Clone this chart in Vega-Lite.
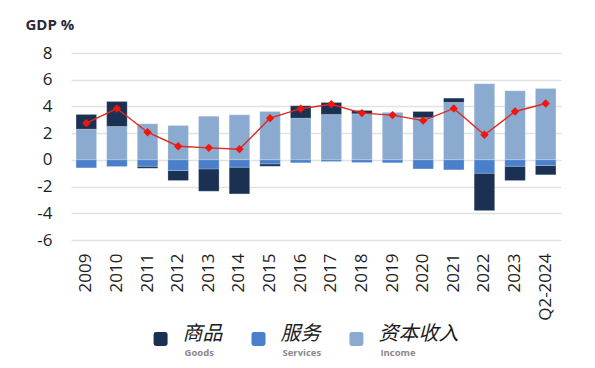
{
  "$schema": "https://vega.github.io/schema/vega-lite/v6.json",
  "background": "white",
  "padding": {"left": 25, "top": 17, "right": 5, "bottom": 5},
  "spacing": 3,
  "config": {"view": {"stroke": null}, "font": "Open Sans"},
  "datasets": {
    "bars": [
      {"year": "2009", "type": "Income", "value": 2.3}, {"year": "2009", "type": "Goods", "value": 1.1}, {"year": "2009", "type": "Services", "value": -0.6},
      {"year": "2010", "type": "Income", "value": 2.5}, {"year": "2010", "type": "Goods", "value": 1.87}, {"year": "2010", "type": "Services", "value": -0.5},
      {"year": "2011", "type": "Income", "value": 2.7}, {"year": "2011", "type": "Goods", "value": -0.15}, {"year": "2011", "type": "Services", "value": -0.48},
      {"year": "2012", "type": "Income", "value": 2.57}, {"year": "2012", "type": "Goods", "value": -0.75}, {"year": "2012", "type": "Services", "value": -0.8},
      {"year": "2013", "type": "Income", "value": 3.27}, {"year": "2013", "type": "Goods", "value": -1.67}, {"year": "2013", "type": "Services", "value": -0.68},
      {"year": "2014", "type": "Income", "value": 3.37}, {"year": "2014", "type": "Goods", "value": -2.0}, {"year": "2014", "type": "Services", "value": -0.55},
      {"year": "2015", "type": "Income", "value": 3.62}, {"year": "2015", "type": "Goods", "value": -0.18}, {"year": "2015", "type": "Services", "value": -0.3},
      {"year": "2016", "type": "Income", "value": 3.12}, {"year": "2016", "type": "Goods", "value": 0.93}, {"year": "2016", "type": "Services", "value": -0.22},
      {"year": "2017", "type": "Income", "value": 3.4}, {"year": "2017", "type": "Goods", "value": 0.9}, {"year": "2017", "type": "Services", "value": -0.13},
      {"year": "2018", "type": "Income", "value": 3.45}, {"year": "2018", "type": "Goods", "value": 0.25}, {"year": "2018", "type": "Services", "value": -0.2},
      {"year": "2019", "type": "Income", "value": 3.57}, {"year": "2019", "type": "Goods", "value": 0.0}, {"year": "2019", "type": "Services", "value": -0.22},
      {"year": "2020", "type": "Income", "value": 3.15}, {"year": "2020", "type": "Goods", "value": 0.47}, {"year": "2020", "type": "Services", "value": -0.68},
      {"year": "2021", "type": "Income", "value": 4.3}, {"year": "2021", "type": "Goods", "value": 0.32}, {"year": "2021", "type": "Services", "value": -0.75},
      {"year": "2022", "type": "Income", "value": 5.7}, {"year": "2022", "type": "Goods", "value": -2.8}, {"year": "2022", "type": "Services", "value": -1.0},
      {"year": "2023", "type": "Income", "value": 5.17}, {"year": "2023", "type": "Goods", "value": -1.07}, {"year": "2023", "type": "Services", "value": -0.48},
      {"year": "Q2-2024", "type": "Income", "value": 5.35}, {"year": "Q2-2024", "type": "Goods", "value": -0.7}, {"year": "Q2-2024", "type": "Services", "value": -0.42}
    ],
    "total": [
      {"year": "2009", "total": 2.75}, {"year": "2010", "total": 3.84}, {"year": "2011", "total": 2.07},
      {"year": "2012", "total": 1.02}, {"year": "2013", "total": 0.9}, {"year": "2014", "total": 0.8},
      {"year": "2015", "total": 3.12}, {"year": "2016", "total": 3.83}, {"year": "2017", "total": 4.16},
      {"year": "2018", "total": 3.5}, {"year": "2019", "total": 3.35}, {"year": "2020", "total": 2.94},
      {"year": "2021", "total": 3.85}, {"year": "2022", "total": 1.88}, {"year": "2023", "total": 3.62},
      {"year": "Q2-2024", "total": 4.22}
    ],
    "legend": [
      {"type": "Goods", "zh": "商品", "en": "Goods"},
      {"type": "Services", "zh": "服务", "en": "Services"},
      {"type": "Income", "zh": "资本收入", "en": "Income"}
    ]
  },
  "vconcat": [
    {
      "width": 490,
      "height": 187,
      "encoding": {
        "x": {
          "field": "year", "type": "ordinal",
          "scale": {"paddingInner": 0.33, "paddingOuter": 0.165},
          "axis": {"title": null, "labelAngle": -90, "labelFontSize": 17, "labelColor": "#1e1e1e", "ticks": false, "domain": false, "labelPadding": 13}
        }
      },
      "layer": [
        {
          "data": {"name": "bars"},
          "mark": {"type": "bar", "stroke": "#ffffff", "strokeOpacity": 0.35, "strokeWidth": 0.6},
          "encoding": {
            "y": {
              "field": "value", "type": "quantitative", "stack": "zero",
              "scale": {"domain": [-6, 8], "nice": false, "zero": false},
              "axis": {
                "values": [-6, -4, -2, 0, 2, 4, 6, 8],
                "labelOverlap": false,
                "labelExpr": "toString(datum.value)",
                "title": "GDP %", "titleAngle": 0, "titleAlign": "left", "titleBaseline": "alphabetic",
                "titleX": -46, "titleY": -24, "titleFontSize": 15, "titleFontWeight": "bold", "titleColor": "#2a2a3a",
                "labelFontSize": 17, "labelColor": "#1e1e1e", "labelPadding": 19,
                "ticks": false, "domain": false,
                "gridColor": "#e2e2e2", "gridWidth": 1.5
              }
            },
            "color": {
              "field": "type", "type": "nominal",
              "scale": {"domain": ["Goods", "Services", "Income"], "range": ["#1b3154", "#4a7fcb", "#8aaad0"]},
              "legend": null
            },
            "order": {"field": "type", "sort": "descending"}
          }
        },
        {
          "data": {"name": "total"},
          "mark": {"type": "line", "color": "#e0291f", "strokeWidth": 1.4, "point": {"shape": "diamond", "size": 70, "filled": true, "color": "#f2150d"}},
          "encoding": {
            "y": {
              "field": "total", "type": "quantitative",
              "axis": {
                "values": [-6, -4, -2, 0, 2, 4, 6, 8],
                "labelOverlap": false,
                "labelExpr": "toString(datum.value)",
                "title": "GDP %", "titleAngle": 0, "titleAlign": "left", "titleBaseline": "alphabetic",
                "titleX": -46, "titleY": -24, "titleFontSize": 15, "titleFontWeight": "bold", "titleColor": "#2a2a3a",
                "labelFontSize": 17, "labelColor": "#1e1e1e", "labelPadding": 19,
                "ticks": false, "domain": false,
                "gridColor": "#e2e2e2", "gridWidth": 1.5
              }
            }
          }
        }
      ]
    },
    {
      "width": 375,
      "height": 20,
      "data": {"name": "legend"},
      "encoding": {
        "x": {
          "field": "zh", "type": "nominal",
          "scale": {"type": "point", "domain": ["商品", "服务", "资本收入"], "padding": 0.915},
          "axis": null
        }
      },
      "layer": [
        {
          "mark": {"type": "point", "filled": true, "opacity": 1, "size": 196,
            "shape": "M -0.65,-1 L 0.65,-1 Q 1,-1 1,-0.65 L 1,0.65 Q 1,1 0.65,1 L -0.65,1 Q -1,1 -1,0.65 L -1,-0.65 Q -1,-1 -0.65,-1 Z"},
          "encoding": {
            "color": {
              "field": "type", "type": "nominal",
              "scale": {"domain": ["Goods", "Services", "Income"], "range": ["#1b3154", "#4a7fcb", "#8aaad0"]},
              "legend": null
            }
          }
        },
        {
          "mark": {"type": "text", "align": "left", "baseline": "middle", "dx": 22, "dy": -5, "fontSize": 20, "font": "Noto Sans CJK SC", "fontStyle": "italic", "color": "#1a1a1a"},
          "encoding": {"text": {"field": "zh"}}
        },
        {
          "mark": {"type": "text", "align": "left", "baseline": "middle", "dx": 24, "dy": 14, "fontSize": 9.5, "fontWeight": "bold", "letterSpacing": 0.7, "color": "#8a8a8a", "font": "Open Sans"},
          "encoding": {"text": {"field": "en"}}
        }
      ]
    }
  ]
}
